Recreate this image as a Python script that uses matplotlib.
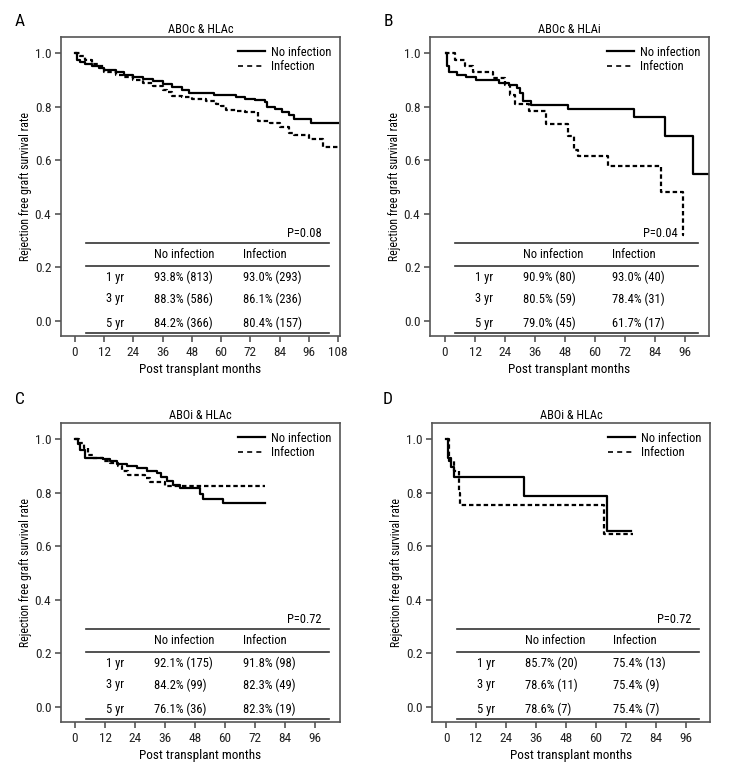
#!/usr/bin/env python
# Kaplan-Meier style rejection free graft survival, 4 panels

import numpy as np
import matplotlib.pyplot as plt
from matplotlib.lines import Line2D

plt.rcParams['font.family'] = ['Roboto Condensed', 'DejaVu Sans']

# panel A: ABOc & HLAc
a_no_t = [0, 1, 2, 4, 7, 10, 12, 17, 20, 24, 28, 32, 36, 40, 44, 47, 52, 57, 60, 66, 70, 74, 78, 79, 82, 85, 88, 90, 97, 108]
a_no_s = [1.0, 0.975, 0.965, 0.958, 0.952, 0.945, 0.937, 0.928, 0.92, 0.912, 0.905, 0.897, 0.885,
          0.874, 0.864, 0.852, 0.85, 0.845, 0.842, 0.837, 0.83, 0.825, 0.818, 0.80, 0.79, 0.78, 0.77,
          0.753, 0.74, 0.74]
a_inf_t = [0, 2, 4, 7, 10, 12, 17, 20, 24, 28, 32, 36, 38, 40, 44, 48, 54, 58, 60, 62, 66, 70, 75, 80,
           84, 88, 90, 96, 102, 108]
a_inf_s = [1.0, 0.99, 0.975, 0.96, 0.95, 0.93, 0.92, 0.91, 0.90, 0.89, 0.877, 0.861, 0.856, 0.84, 0.835,
           0.827, 0.82, 0.81, 0.804, 0.787, 0.785, 0.78, 0.747, 0.74, 0.725, 0.70, 0.694, 0.68, 0.65, 0.65]

# panel B: ABOc & HLAi
b_no_t = [0.4, 0.8, 1.7, 4.7, 8.4, 12.4, 21.7, 25.7, 28.7, 29.8, 31, 34.4, 49, 75.7, 88, 99, 105.7]
b_no_s = [1.0, 0.95, 0.93, 0.92, 0.91, 0.90, 0.89, 0.88, 0.87, 0.85, 0.82, 0.805, 0.79, 0.76, 0.69, 0.55, 0.55]
b_inf_t = [0, 4, 8, 11, 19, 24, 26, 28, 33.5, 40.5, 49, 51.5, 53, 65, 86.5, 95, 95.5]
b_inf_s = [1.0, 0.975, 0.953, 0.93, 0.907, 0.88, 0.845, 0.81, 0.784, 0.735, 0.69, 0.64, 0.617, 0.58,
           0.48, 0.32, 0.32]

# panel C: ABOi & HLAc
c_no_t = [0, 1, 2, 4, 11, 14, 16.7, 20.7, 24.7, 28.7, 32.7, 34.5, 36.7, 39.3, 42, 50, 51, 59, 76]
c_no_s = [1.0, 0.98, 0.96, 0.93, 0.925, 0.917, 0.907, 0.90, 0.892, 0.88, 0.872, 0.86, 0.842, 0.828,
          0.816, 0.796, 0.778, 0.761, 0.761]
c_inf_t = [0, 1.5, 3.5, 5.3, 7.3, 11.3, 14, 17.3, 18.7, 21.3, 28, 30, 36, 76]
c_inf_s = [1.0, 0.985, 0.965, 0.94, 0.93, 0.918, 0.91, 0.90, 0.88, 0.867, 0.855, 0.84, 0.823, 0.823]

# panel D: ABOi & HLAc
d_no_t = [0, 0.7, 2, 3, 31, 64.3, 74]
d_no_s = [1.0, 0.93, 0.895, 0.857, 0.786, 0.657, 0.657]
d_inf_t = [0.5, 1, 3, 5, 5.7, 63, 74.7]
d_inf_s = [1.0, 0.92, 0.88, 0.80, 0.754, 0.646, 0.646]

titles = ['ABOc & HLAc', 'ABOc & HLAi', 'ABOi & HLAc', 'ABOi & HLAc']
letters = ['A', 'B', 'C', 'D']
pvals = ['P=0.08', 'P=0.04', 'P=0.72', 'P=0.72']
row_labels = ['1 yr', '3 yr', '5 yr']
tab_no = [['93.8% (813)', '88.3% (586)', '84.2% (366)'],
          ['90.9% (80)', '80.5% (59)', '79.0% (45)'],
          ['92.1% (175)', '84.2% (99)', '76.1% (36)'],
          ['85.7% (20)', '78.6% (11)', '78.6% (7)']]
tab_inf = [['93.0% (293)', '86.1% (236)', '80.4% (157)'],
           ['93.0% (40)', '78.4% (31)', '61.7% (17)'],
           ['91.8% (98)', '82.3% (49)', '82.3% (19)'],
           ['75.4% (13)', '75.4% (9)', '75.4% (7)']]

curves = [(a_no_t, a_no_s, a_inf_t, a_inf_s),
          (b_no_t, b_no_s, b_inf_t, b_inf_s),
          (c_no_t, c_no_s, c_inf_t, c_inf_s),
          (d_no_t, d_no_s, d_inf_t, d_inf_s)]

W, H = 732, 780
fig = plt.figure(figsize=(W / 100, H / 100), dpi=100)

# axes boxes in pixels: left, top, right, bottom
boxes = [(61, 37, 340, 336), (430, 37, 709, 336), (61, 423, 340, 722), (432, 423, 710, 722)]
xlims = [(-5.7, 108.8), (-6, 105.6), (-5.6, 106), (-5.6, 105.6)]
xmaxtick = [108, 96, 96, 96]
p_right = [0.935, 0.889, 0.935, 0.935]
frame_col = '#555555'
fs = 9

for i in range(4):
    l, t, r, b = boxes[i]
    ax = fig.add_axes([l / W, 1 - b / H, (r - l) / W, (b - t) / H])
    nt, ns, it, is_ = curves[i]
    ax.step(nt, ns, where='post', color='black', lw=1.6)
    ax.step(it, is_, where='post', color='black', lw=1.6, dashes=(2, 1.3))

    ax.set_xlim(*xlims[i])
    ax.set_ylim(-0.056, 1.06)
    ax.set_xticks(np.arange(0, xmaxtick[i] + 1, 12))
    ax.set_yticks(np.arange(0, 1.01, 0.2))
    ax.set_yticklabels(['%.1f' % v for v in np.arange(0, 1.01, 0.2)])
    ax.tick_params(length=4, width=1.2, color=frame_col, labelsize=9.5, colors='#222222', pad=3)
    for s in ax.spines.values():
        s.set_color(frame_col)
        s.set_linewidth(1.2)
    ax.set_title(titles[i], fontsize=8.8, pad=3)
    ax.set_xlabel('Post transplant months', fontsize=9.5, labelpad=3)
    ax.set_ylabel('Rejection free graft survival rate', fontsize=8.5, labelpad=2)

    handles = [Line2D([], [], color='black', lw=1.6),
               Line2D([], [], color='black', lw=1.2, dashes=(3, 2.5))]
    ax.legend(handles, ['No infection', 'Infection'], loc='upper right', frameon=False,
              fontsize=fs, handlelength=2.1, handletextpad=0.5, labelspacing=0.1,
              borderaxespad=0.5, borderpad=0.2)

    # summary table drawn inside the axes
    tr = ax.transAxes
    for y in [0.311, 0.234, 0.010]:
        ax.plot([0.09, 0.962], [y, y], transform=tr, color='#333333', lw=1.2)
    ax.text(p_right[i], 0.344, pvals[i], transform=tr, ha='right', va='center', fontsize=fs)
    ax.text(0.333, 0.274, 'No infection', transform=tr, ha='left', va='center', fontsize=fs)
    ax.text(0.652, 0.274, 'Infection', transform=tr, ha='left', va='center', fontsize=fs)
    for j, y in enumerate([0.197, 0.124, 0.043]):
        ax.text(0.194, y, row_labels[j], transform=tr, ha='center', va='center', fontsize=fs)
        ax.text(0.333, y, tab_no[i][j], transform=tr, ha='left', va='center', fontsize=fs)
        ax.text(0.652, y, tab_inf[i][j], transform=tr, ha='left', va='center', fontsize=fs)

letter_pos = [(20, 22), (388, 22), (20, 400), (388, 400)]
for k, (x, y) in enumerate(letter_pos):
    fig.text(x / W, 1 - y / H, letters[k], fontsize=12.5, ha='center', va='center')

fig.savefig('out.png', dpi=100)
